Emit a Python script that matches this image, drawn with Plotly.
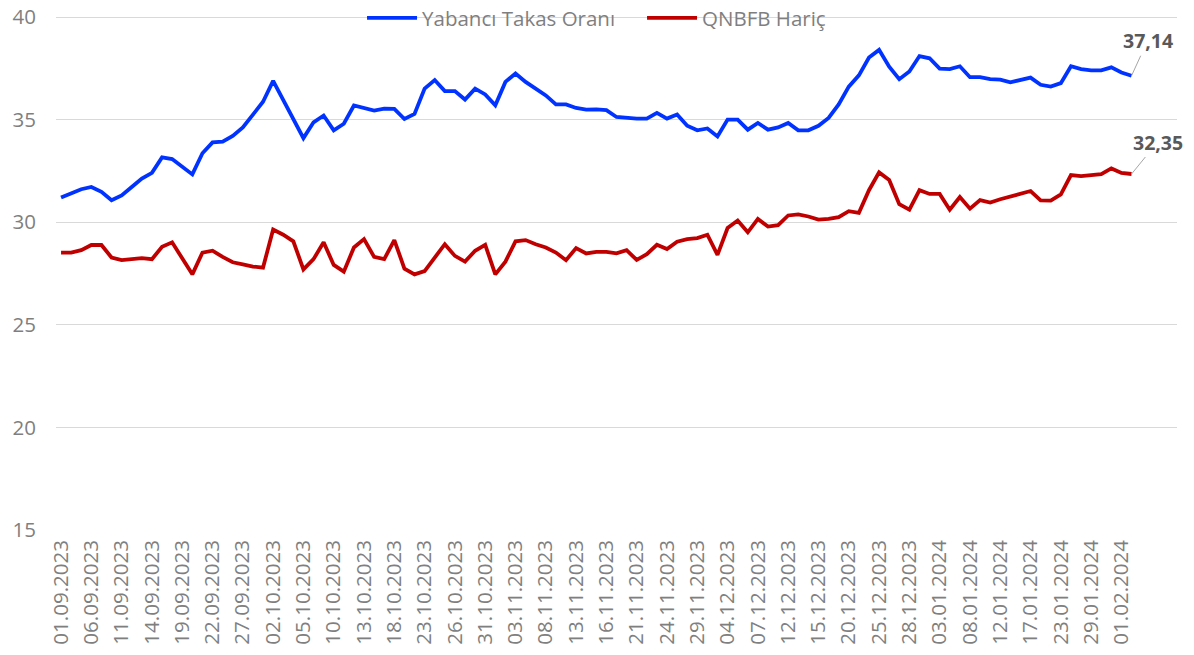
import plotly.graph_objects as go

# Trading days shown on the category axis
sep_days = ["01","04","05","06","07","08","11","12","13","14","15","18","19","20","21","22","25","26","27","28","29"]
oct_days = ["02","03","04","05","06","09","10","11","12","13","16","17","18","19","20","23","24","25","26","27","30","31"]
nov_days = ["01","02","03","06","07","08","09","10","13","14","15","16","17","20","21","22","23","24","27","28","29","30"]
dec_days = ["01","04","05","06","07","08","11","12","13","14","15","18","19","20","21","22","25","26","27","28","29"]
jan_days = ["02","03","04","05","08","09","11","12","15","16","17","18","22","23","24","26","29","30","31"]
feb_days = ["01","02"]

dates = ([d + ".09.2023" for d in sep_days] + [d + ".10.2023" for d in oct_days] +
         [d + ".11.2023" for d in nov_days] + [d + ".12.2023" for d in dec_days] +
         [d + ".01.2024" for d in jan_days] + [d + ".02.2024" for d in feb_days])

yabanci = [31.20, 31.43, 31.61, 31.72, 31.48, 31.07, 31.31, 31.72, 32.13, 32.41,
           33.16, 33.08, 32.70, 32.33, 33.36, 33.89, 33.93, 34.21, 34.62, 35.25,
           35.87, 36.89, 35.95, 35.05, 34.10, 34.87, 35.20, 34.48, 34.80, 35.69,
           35.57, 35.44, 35.54, 35.52, 35.03, 35.28, 36.51, 36.93, 36.39, 36.39,
           35.98, 36.51, 36.23, 35.70, 36.84, 37.25, 36.84, 36.51, 36.18, 35.74,
           35.74, 35.57, 35.49, 35.50, 35.46, 35.13, 35.07, 35.05, 35.05, 35.33,
           35.05, 35.25, 34.70, 34.48, 34.57, 34.18, 35.00, 35.00, 34.51, 34.84,
           34.51, 34.62, 34.84, 34.48, 34.48, 34.70, 35.08, 35.74, 36.61, 37.16,
           38.03, 38.40, 37.58, 36.97, 37.35, 38.10, 37.99, 37.49, 37.46, 37.60,
           37.07, 37.07, 36.97, 36.95, 36.82, 36.93, 37.05, 36.70, 36.61, 36.78,
           37.60, 37.46, 37.40, 37.40, 37.55, 37.30, 37.14]

qnbfb_haric = [28.52, 28.52, 28.64, 28.89, 28.89, 28.28, 28.15, 28.20, 28.25, 28.20,
               28.80, 29.02, 28.28, 27.46, 28.52, 28.61, 28.31, 28.05, 27.95, 27.84,
               27.79, 29.64, 29.39, 29.07, 27.70, 28.20, 29.02, 27.92, 27.59, 28.77,
               29.18, 28.31, 28.20, 29.13, 27.74, 27.46, 27.62, 28.28, 28.93, 28.36,
               28.08, 28.61, 28.90, 27.46, 28.08, 29.07, 29.13, 28.93, 28.77, 28.52,
               28.15, 28.74, 28.48, 28.56, 28.56, 28.48, 28.64, 28.16, 28.44, 28.90,
               28.69, 29.05, 29.18, 29.23, 29.39, 28.41, 29.72, 30.08, 29.51, 30.16,
               29.79, 29.86, 30.33, 30.38, 30.28, 30.13, 30.16, 30.25, 30.54, 30.46,
               31.56, 32.43, 32.06, 30.88, 30.61, 31.56, 31.38, 31.38, 30.61, 31.23,
               30.66, 31.08, 30.96, 31.12, 31.24, 31.38, 31.52, 31.07, 31.05, 31.36,
               32.30, 32.25, 32.30, 32.34, 32.62, 32.40, 32.35]

series_names = ["Yabancı Takas Oranı", "QNBFB Hariç"]
series_colors = ["#0033FF", "#C00000"]
last_labels = ["37,14", "32,35"]

y_ticks = [15, 20, 25, 30, 35, 40]
x_tick_vals = dates[::3]

FONT = "Open Sans"
GRAY = "#7F7F7F"

fig = go.Figure()
for name, vals, col in zip(series_names, [yabanci, qnbfb_haric], series_colors):
    fig.add_trace(go.Scatter(x=dates, y=vals, mode="lines", name=name,
                             line=dict(color=col, width=3.8)))

offsets = [(16, -35), (26, -32)]
for vals, lab, (ax, ay) in zip([yabanci, qnbfb_haric], last_labels, offsets):
    fig.add_annotation(x=dates[-1], y=vals[-1], text="<b>" + lab + "</b>",
                       showarrow=True, arrowhead=0, arrowwidth=1, arrowcolor="#A6A6A6",
                       ax=ax, ay=ay, font=dict(family=FONT, size=19.5, color="#595959"))

fig.update_layout(
    width=1194, height=655,
    margin=dict(l=56, r=17, t=15, b=125, autoexpand=False),
    paper_bgcolor="white", plot_bgcolor="white",
    font=dict(family=FONT, size=20.5, color=GRAY),
    showlegend=True,
    legend=dict(orientation="h", x=0.273, xanchor="left", y=0.994, yanchor="middle",
                bgcolor="rgba(0,0,0,0)", font=dict(family=FONT, size=20.5, color=GRAY),
                itemwidth=50, entrywidth=215, entrywidthmode="pixels", tracegroupgap=0),
    xaxis=dict(type="category", range=[-0.5, 110.5], tickmode="array",
               tickvals=x_tick_vals, ticktext=x_tick_vals, tickangle=-90,
               showgrid=False, showline=False, zeroline=False, ticks="",
               ticklabelstandoff=5,
               tickfont=dict(family=FONT, size=20.5, color=GRAY)),
    yaxis=dict(range=[15, 40.1], tickvals=y_ticks, showgrid=True, gridcolor="#D9D9D9",
               gridwidth=1.3, zeroline=False, showline=False, ticks="",
               ticklabelstandoff=19, ticklabeloverflow="allow",
               tickfont=dict(family=FONT, size=20.5, color=GRAY)),
)

fig.write_html("out.html", config={"displayModeBar": False},
               post_script="document.body.style.margin='0';document.body.style.overflow='hidden';")
